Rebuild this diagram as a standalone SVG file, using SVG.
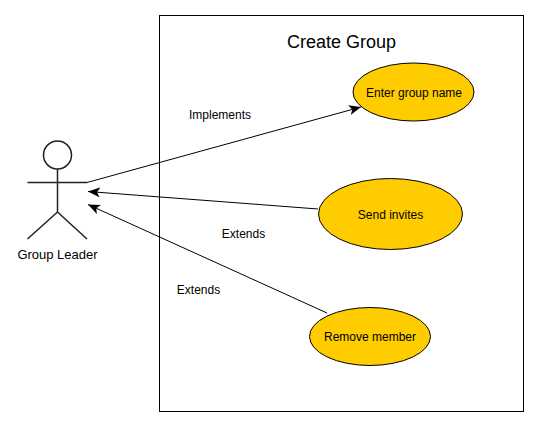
<svg xmlns="http://www.w3.org/2000/svg" width="539" height="427" viewBox="0 0 539 427">
<style>
text{font-family:"Liberation Sans",Arial,sans-serif;font-size:12px;fill:#000;text-anchor:middle}
.uc{fill:#ffcc00;stroke:#000;stroke-width:1}
.ln{fill:none;stroke:#000;stroke-width:1}
.act{fill:none;stroke:#222;stroke-width:1.5}
</style>
<defs><marker id="a" markerUnits="userSpaceOnUse" markerWidth="14" markerHeight="12" refX="12" refY="5" orient="auto"><path d="M0 0L12 5L0 10L3 5Z" fill="#000"/></marker></defs>
<rect width="539" height="427" fill="#fff"/>
<g id="boundary"><rect x="159.500" y="15.500" width="364" height="396" fill="#fff" stroke="#000"/><text x="341.500" y="48" style="font-size:18px">Create Group</text></g>
<g id="connectors">
<path class="ln" d="M87 182.500L361 107" marker-end="url(#a)"/>
<path class="ln" d="M318 209L88 191.500" marker-end="url(#a)"/>
<path class="ln" d="M327 313L88 204.500" marker-end="url(#a)"/>
<text x="220" y="119">Implements</text><text x="243.500" y="238">Extends</text><text x="198.500" y="294">Extends</text>
</g>
<g id="actor"><circle class="act" cx="57.500" cy="155" r="14"/><path class="act" d="M57.500 169V212M27.500 182.500H87M57.500 212L27.500 239M57.500 212L87 239"/><text x="57.500" y="259" style="font-size:13px">Group Leader</text></g>
<g id="enter"><ellipse class="uc" cx="413.500" cy="92" rx="60.500" ry="29"/><text x="414" y="97">Enter group name</text></g>
<g id="send"><ellipse class="uc" cx="390.500" cy="214" rx="72" ry="35.500"/><text x="390.500" y="219">Send invites</text></g>
<g id="remove"><ellipse class="uc" cx="370" cy="336.500" rx="60.500" ry="29"/><text x="370" y="341">Remove member</text></g>
</svg>
